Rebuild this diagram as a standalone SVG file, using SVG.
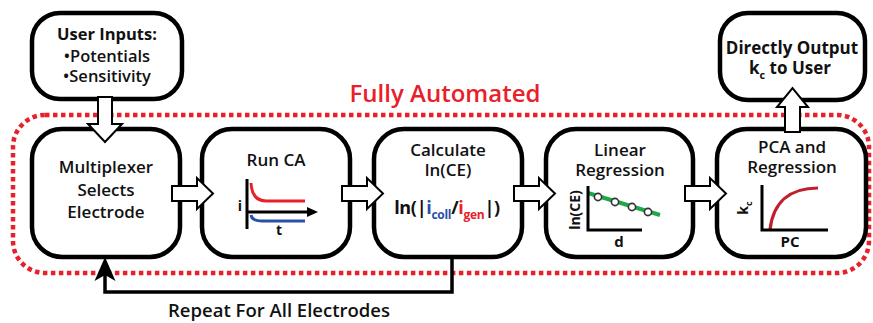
<svg xmlns="http://www.w3.org/2000/svg" width="873" height="323" viewBox="0 0 873 323">
<style>
.box{fill:#fff;stroke:#000;stroke-width:4.5}
.t{font-family:"Open Sans","Noto Sans","Liberation Sans",sans-serif;font-weight:600;font-size:17px;fill:#111;text-anchor:middle}
.b{font-family:"Open Sans","Noto Sans","Liberation Sans",sans-serif;font-weight:700;fill:#111;text-anchor:middle}
.blk{fill:#fff;stroke:#000;stroke-width:2;stroke-linejoin:miter}
.ax{fill:none;stroke:#000;stroke-width:3}
</style>
<rect width="873" height="323" fill="#fff"/>
<!-- automated region -->
<rect x="13" y="115" width="856" height="158" rx="32" fill="none" stroke="#e8202a" stroke-width="4.5" stroke-dasharray="4.5 3.5"/>
<text class="t" x="445" y="102" style="font-size:24px;fill:#e8202a">Fully Automated</text>

<g id="user-inputs">
<rect class="box" x="32" y="13" width="150" height="86" rx="28"/>
<text class="b" x="107" y="40" font-size="16.5">User Inputs:</text>
<text class="t" x="107" y="62" style="font-size:16.5px">•Potentials</text>
<text class="t" x="107" y="82" style="font-size:16.5px">•Sensitivity</text>
</g>

<g id="direct-output">
<rect class="box" x="720" y="13" width="145" height="87" rx="28"/>
<text class="b" x="792" y="54" font-size="17">Directly Output</text>
<text class="b" x="790" y="74" font-size="17">k<tspan font-size="11" dy="5">c</tspan><tspan dy="-5"> to User</tspan></text>
</g>

<g id="multiplexer">
<rect class="box" x="32" y="129" width="148" height="128" rx="30"/>
<text class="t" x="106" y="173">Multiplexer</text>
<text class="t" x="106" y="196">Selects</text>
<text class="t" x="106" y="218">Electrode</text>
</g>

<g id="run-ca">
<rect class="box" x="202" y="129" width="148" height="128" rx="30"/>
<text class="t" x="276" y="166">Run CA</text>
<path d="M251,183 Q252,201 266,201 H305" fill="none" stroke="#e8202a" stroke-width="3"/>
<path d="M251,215 Q252,221 262,221 H305" fill="none" stroke="#2a4fa8" stroke-width="3"/>
<path class="ax" d="M247,179 V229 M247,212 H309"/>
<polygon points="318,212 307,207 307,217" fill="#000"/>
<text class="b" x="240" y="211" font-size="14">i</text>
<text class="b" x="279" y="235" font-size="14">t</text>
</g>

<g id="calculate">
<rect class="box" x="374" y="129" width="148" height="128" rx="30"/>
<text class="t" x="448" y="156">Calculate</text>
<text class="t" x="448" y="176">ln(CE)</text>
<text class="b" x="447" y="214" font-size="18" letter-spacing="-0.3">ln(|<tspan fill="#2a4fa8">i</tspan><tspan fill="#2a4fa8" font-size="12" dy="5">coll</tspan><tspan dy="-5">/</tspan><tspan fill="#e8202a">i</tspan><tspan fill="#e8202a" font-size="12" dy="5">gen</tspan><tspan dy="-5">|)</tspan></text>
</g>

<g id="linear-regression">
<rect class="box" x="546" y="129" width="147" height="128" rx="30"/>
<text class="t" x="620" y="156">Linear</text>
<text class="t" x="620" y="176">Regression</text>
<line x1="588" y1="193" x2="660" y2="215" stroke="#1fa84a" stroke-width="4"/>
<path class="ax" d="M588,186 V230 H642"/>
<g fill="#fff" stroke="#333" stroke-width="1.6">
<circle cx="598" cy="197" r="3.6"/>
<circle cx="615" cy="202" r="3.6"/>
<circle cx="632" cy="207" r="3.6"/>
<circle cx="648" cy="212" r="3.6"/>
</g>
<text class="b" font-size="14" transform="translate(580,210) rotate(-90)">ln(CE)</text>
<text class="b" x="619" y="247" font-size="15">d</text>
</g>

<g id="pca-regression">
<rect class="box" x="717" y="129" width="149" height="128" rx="30"/>
<text class="t" x="792" y="153">PCA and</text>
<text class="t" x="792" y="173">Regression</text>
<path d="M770,230 C773,202 790,188 818,188" fill="none" stroke="#c0202e" stroke-width="3.2"/>
<path class="ax" d="M762,185 V230 H828"/>
<text class="b" font-size="14" transform="translate(748,208) rotate(-90)">k<tspan font-size="9" dy="4">c</tspan></text>
<text class="b" x="790" y="247" font-size="15">PC</text>
</g>

<g id="connectors">
<polygon class="blk" points="98,97 112,97 112,124 122,124 105,142 88,124 98,124"/>
<polygon class="blk" points="785,132 800,132 800,107 808,107 792.5,88 777,107 785,107"/>
<polygon class="blk" points="172,186 197,186 197,178 213,193.5 197,209 197,201 172,201"/>
<polygon class="blk" points="342,186 367,186 367,178 383,193.5 367,209 367,201 342,201"/>
<polygon class="blk" points="514,186 539,186 539,178 555,193.5 539,209 539,201 514,201"/>
<polygon class="blk" points="685,186 710,186 710,178 726,193.5 710,209 710,201 685,201"/>
<path d="M452,259 V292 H105 V272" fill="none" stroke="#000" stroke-width="3.5"/>
<polygon points="105,257 115.5,281 105,275 94.5,281" fill="#000"/>
<text class="t" x="279" y="317" style="font-size:18.5px">Repeat For All Electrodes</text>
</g>
</svg>
